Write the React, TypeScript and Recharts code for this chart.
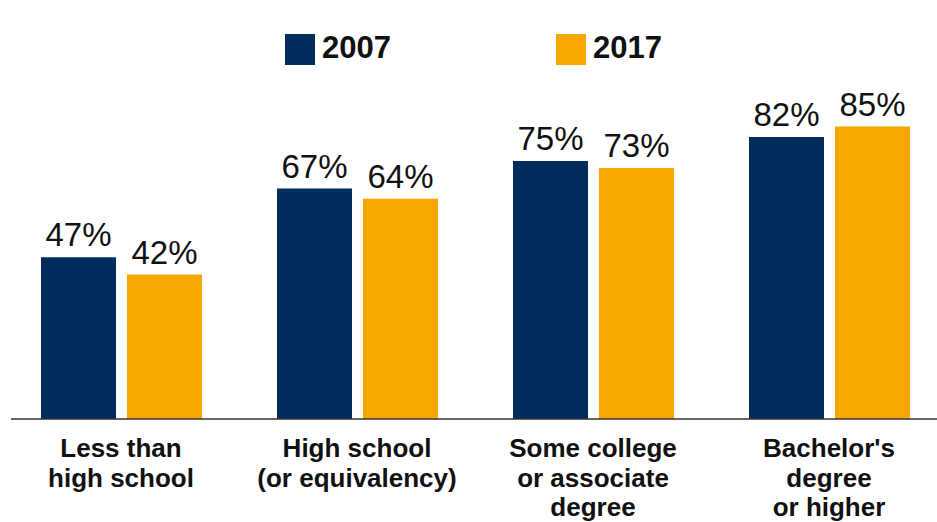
import React from 'react';
import { BarChart, Bar, XAxis, YAxis, Legend, LabelList, ReferenceLine } from 'recharts';

const categories = [
  'Less than\nhigh school',
  'High school\n(or equivalency)',
  'Some college\nor associate\ndegree',
  "Bachelor's\ndegree\nor higher",
];
const values2007 = [47, 67, 75, 82];
const values2017 = [42, 64, 73, 85];
const seriesNames = ['2007', '2017'];

const NAVY = '#022c5c';
const GOLD = '#f6a800';
const FONT = '"Liberation Sans", Arial, sans-serif';

const data = categories.map((c, i) => ({
  category: c,
  y2007: values2007[i],
  y2017: values2017[i],
}));

// multi-line category labels under each group
const CategoryTick = (props: any) => {
  const { x, y, payload } = props;
  const lines = String(payload.value).split('\n');
  return (
    <text x={x} y={y} textAnchor="middle" fill="#111" fontFamily={FONT} fontSize={26} fontWeight="bold">
      {lines.map((l, i) => (
        <tspan key={i} x={x} dy={i === 0 ? 38 : 29.5}>
          {l}
        </tspan>
      ))}
    </text>
  );
};

const LegendContent = () => {
  const items = [
    { name: seriesNames[0], color: NAVY, left: 285 },
    { name: seriesNames[1], color: GOLD, left: 556 },
  ];
  return (
    <div style={{ position: 'relative', width: 937, height: 31 }}>
      {items.map((it) => (
        <div
          key={it.name}
          style={{ position: 'absolute', left: it.left, top: 0, height: 31, display: 'flex', alignItems: 'center' }}
        >
          <span style={{ width: 30, height: 31, background: it.color, display: 'inline-block' }} />
          <span
            style={{
              marginLeft: 7,
              fontSize: 31,
              fontWeight: 'bold',
              lineHeight: 1,
              color: '#111',
              fontFamily: FONT,
              position: 'relative',
              top: -2,
            }}
          >
            {it.name}
          </span>
        </div>
      ))}
    </div>
  );
};

const pct = (v: any) => `${v}%`;

export default function App() {
  return (
    <div
      style={{
        position: 'absolute',
        left: 0,
        top: 0,
        width: 937,
        height: 522,
        overflow: 'hidden',
        background: '#fff',
        fontFamily: FONT,
      }}
    >
      <BarChart
        width={947}
        height={522}
        data={data}
        margin={{ top: 75, right: 0, bottom: 0, left: 3 }}
        barSize={75}
        barGap={11}
      >
        <XAxis
          dataKey="category"
          axisLine={false}
          tickLine={false}
          tickSize={0}
          tickMargin={0}
          height={103}
          interval={0}
          tick={<CategoryTick />}
        />
        <YAxis hide domain={[0, 100]} />
        <Legend
          layout="horizontal"
          verticalAlign="middle"
          align="center"
          content={<LegendContent />}
          wrapperStyle={{ top: 34, left: 0, width: 937, height: 31 }}
        />
        <Bar dataKey="y2007" name={seriesNames[0]} fill={NAVY} isAnimationActive={false}>
          <LabelList dataKey="y2007" position="top" offset={11} formatter={pct} fill="#111" fontSize={33} fontFamily={FONT} />
        </Bar>
        <Bar dataKey="y2017" name={seriesNames[1]} fill={GOLD} isAnimationActive={false}>
          <LabelList dataKey="y2017" position="top" offset={11} formatter={pct} fill="#111" fontSize={33} fontFamily={FONT} />
        </Bar>
        <ReferenceLine
          y={0}
          shape={(p: any) => (
            <line x1={p.x1 + 8} y1={p.y1} x2={p.x2} y2={p.y2} stroke="#333" strokeWidth={1.5} />
          )}
        />
      </BarChart>
    </div>
  );
}
